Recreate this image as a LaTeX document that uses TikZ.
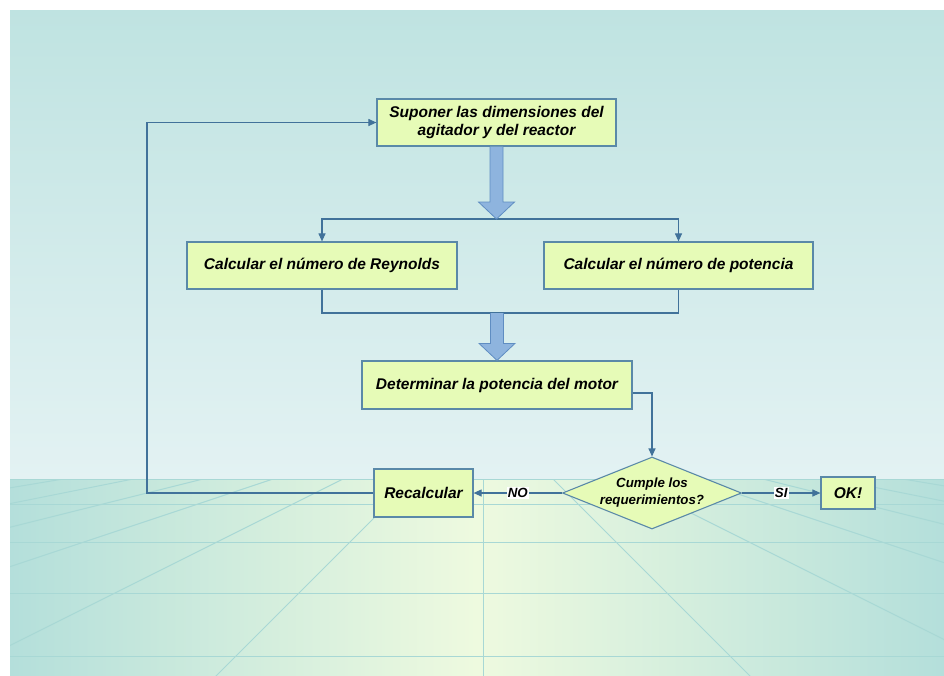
\documentclass[tikz,border=0pt]{standalone}
\usepackage{fontspec}
\setmainfont{Liberation Sans}
\usetikzlibrary{arrows.meta,shapes.geometric,calc}
\definecolor{boxfill}{HTML}{E6FBB7}
\definecolor{boxdraw}{HTML}{5A89A8}
\definecolor{conncol}{HTML}{41729A}
\definecolor{bigfill}{HTML}{8EB4DE}
\definecolor{bigdraw}{HTML}{5F8DC2}
\definecolor{skytop}{HTML}{BFE3E1}
\definecolor{skybot}{HTML}{E3F2F3}
\definecolor{floorside}{HTML}{B4DFDB}
\definecolor{floormid}{HTML}{EEFADF}
\definecolor{gridc}{HTML}{A8D8D5}
\begin{document}
\begin{tikzpicture}[x=1pt,y=-1pt,
 box/.style={draw=boxdraw, fill=boxfill, line width=1.2pt, inner sep=0pt,
   font=\fontsize{15.5}{18}\selectfont\bfseries\itshape, align=center},
 connector/.style={draw=conncol, line width=1.1pt},
 endtri/.style={-{Triangle[length=8pt,width=7pt]}},
 lbl/.style={fill=white, inner sep=1pt, font=\fontsize{13.3}{15}\selectfont\bfseries\itshape},
 bigarrowfill/.style={fill=bigfill},
 bigarrowline/.style={draw=bigdraw, line width=0.8pt, line join=miter},
 gridline/.style={draw=gridc, line width=1pt}]
\useasboundingbox (0,0) rectangle (944,675);
% background
\shade[top color=skytop,bottom color=skybot] (10,10) rectangle (944,479);
\shade[left color=floorside,right color=floorside,middle color=floormid] (10,479) rectangle (944,675);
\begin{scope}
\clip (10,479) rectangle (944,675);
\foreach \yy in {479,504,542,593,656} \draw[gridline] (10,\yy) -- (944,\yy);
\foreach \n in {-7,...,7} \draw[gridline] ({483+70*\n},479) -- ({483+700*\n},1109);
\end{scope}
% nodes
\node[box, minimum width=239pt, minimum height=47pt] (b1) at (496.5,122.5) {Suponer las dimensiones del\\agitador y del reactor};
\node[box, minimum width=270pt, minimum height=47pt] (b2) at (322,265.5) {Calcular el número de Reynolds};
\node[box, minimum width=269pt, minimum height=47pt] (b3) at (678.5,265.5) {Calcular el número de potencia};
\node[box, minimum width=270pt, minimum height=48pt] (b4) at (497,385) {Determinar la potencia del motor};
\node[diamond, draw=boxdraw, fill=boxfill, line width=1.1pt, minimum width=179pt, minimum height=72pt, inner sep=0pt, aspect=2.49] (d) at (652,493) {};
\node[font=\fontsize{13.3}{17}\selectfont\bfseries\itshape, align=center] (dt) at (d) {Cumple los\\requerimientos?};
\node[box, minimum width=99pt, minimum height=48pt] (r) at (423.5,493) {Recalcular};
\node[box, minimum width=54pt, minimum height=32pt] (ok) at (848,493) {OK!};
\coordinate (split) at (496.5,219);
\coordinate (join) at (497,313);
\coordinate (loop) at (147,122.5);
% connectors
\draw[connector,endtri] (split) -| (b2.north);
\draw[connector,endtri] (split) -| (b3.north);
\draw[connector] (b2.south) |- (join) -| (b3.south);
\draw[connector,endtri] ([yshift=-8pt]b4.east) -| (d.north);
\draw[connector,endtri] (d.west) -- node[lbl]{NO} (r.east);
\draw[connector,endtri] (d.east) -- node[lbl]{SI} (ok.west);
\draw[connector,endtri] (r.west) -| (loop) -- (b1.west);
% big arrows
\fill[bigarrowfill] ($(b1.south)+(-6.5,0)$) -- ($(split)+(-6.5,-17)$) -- ($(split)+(-18,-17)$) -- (split) -- ($(split)+(18,-17)$) -- ($(split)+(6.5,-17)$) -- ($(b1.south)+(6.5,0)$) -- cycle;
\draw[bigarrowline] ($(b1.south)+(-6.5,0)$) -- ($(split)+(-6.5,-17)$) -- ($(split)+(-18,-17)$) -- (split) -- ($(split)+(18,-17)$) -- ($(split)+(6.5,-17)$) -- ($(b1.south)+(6.5,0)$);
\fill[bigarrowfill] ($(join)+(-6.5,0)$) -- ($(b4.north)+(-6.5,-17)$) -- ($(b4.north)+(-18,-17)$) -- (b4.north) -- ($(b4.north)+(18,-17)$) -- ($(b4.north)+(6.5,-17)$) -- ($(join)+(6.5,0)$) -- cycle;
\draw[bigarrowline] ($(join)+(-6.5,0)$) -- ($(b4.north)+(-6.5,-17)$) -- ($(b4.north)+(-18,-17)$) -- (b4.north) -- ($(b4.north)+(18,-17)$) -- ($(b4.north)+(6.5,-17)$) -- ($(join)+(6.5,0)$);
\end{tikzpicture}
\end{document}
